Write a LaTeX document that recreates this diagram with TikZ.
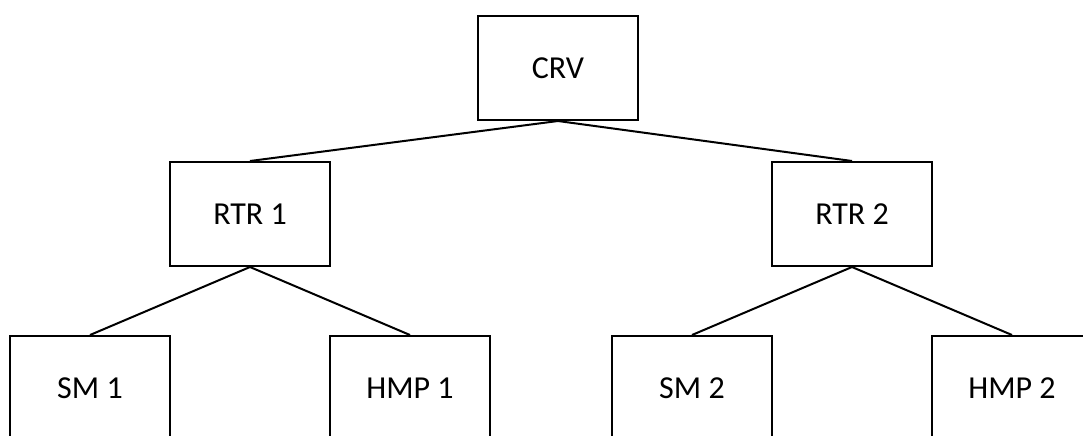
\documentclass[tikz,border=0pt]{standalone}
\usepackage{fontspec}
\setmainfont{Carlito}
\usetikzlibrary{positioning}

\begin{document}
\begin{tikzpicture}[x=0.5pt,y=-0.5pt,
  box/.style={draw, line width=1pt, minimum width=80pt, minimum height=52pt,
    inner sep=0pt, font=\fontsize{16}{19}\selectfont}]
  \useasboundingbox (0,0) rectangle (1083,435);
  \clip (0,0) rectangle (1083,435);
  \node[box] (crv) at (558,68) {CRV};
  \node[box] (rtr1) at (250,214) {RTR 1};
  \node[box] (rtr2) at (852,214) {RTR 2};
  \node[box] (sm1) at (90,388) {SM 1};
  \node[box] (hmp1) at (410,388) {HMP 1};
  \node[box] (sm2) at (692,388) {SM 2};
  \node[box] (hmp2) at (1012,388) {HMP 2};
  \draw[line width=1pt] (rtr1.north) -- (crv.south) -- (rtr2.north)
  (sm1.north) -- (rtr1.south) -- (hmp1.north)
  (sm2.north) -- (rtr2.south) -- (hmp2.north);
\end{tikzpicture}
\end{document}
